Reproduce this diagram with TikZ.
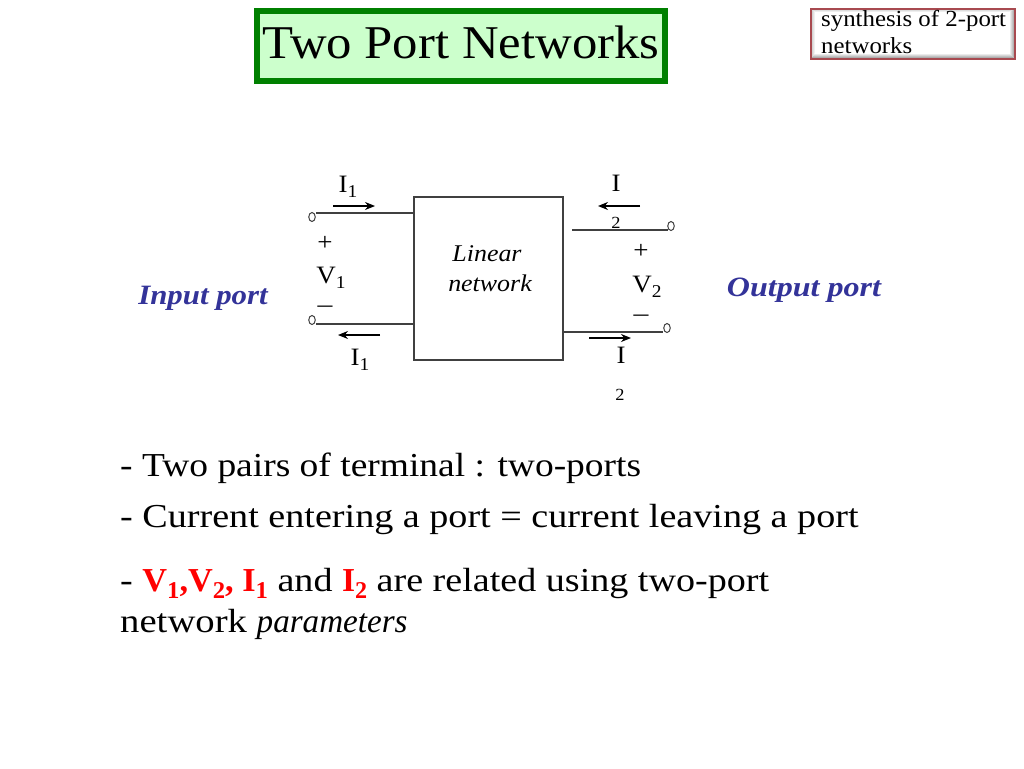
\documentclass[tikz,border=0pt]{standalone}
\usepackage{fontspec}
\usepackage{graphicx}
\setmainfont[FakeStretch=1.08]{Liberation Serif}
\usetikzlibrary{arrows.meta,shapes.geometric}
\definecolor{titlegreen}{HTML}{008000}
\definecolor{titlefill}{HTML}{CCFFCC}
\definecolor{portblue}{HTML}{333399}
\definecolor{linegray}{HTML}{404040}
\definecolor{tagred}{HTML}{A84A50}
\newcommand{\fs}[1]{\fontsize{#1}{#1}\selectfont}
\newcommand{\rsub}[1]{\raisebox{-0.22em}{\fontsize{0.72em}{0.72em}\selectfont #1}}
\newcommand{\hsq}[2]{\scalebox{#1}[1]{#2}}
\tikzset{
  x=1pt,y=-1pt,
  lbl/.style={inner sep=0pt,anchor=base,font=\fs{25},text=black},
  tiny2/.style={inner sep=0pt,anchor=base,font=\fs{17},text=black},
  body/.style={inner sep=0pt,anchor=base west,font=\fs{33.5},text=black},
  port/.style={inner sep=0pt,anchor=base,font=\fs{28}\bfseries\itshape,text=portblue},
  netw/.style={inner sep=0pt,anchor=base,font=\fs{24}\itshape,text=black},
  tagtext/.style={inner sep=0pt,anchor=base west,font=\fs{23},text=black},
  wire/.style={draw=linegray,line width=1.1pt},
  term/.style={ellipse,draw=linegray,line width=1pt,minimum width=6.5pt,minimum height=9pt,inner sep=0pt},
  cur/.style={draw=black,line width=1.2pt,-{Stealth[length=10pt,width=8pt]}}
}
\begin{document}
\begin{tikzpicture}
\useasboundingbox (0,0) rectangle (1024,768);
\fill[white] (0,0) rectangle (1024,768);
% title
\node[draw=titlegreen,fill=titlefill,line width=6pt,minimum width=408pt,minimum height=70pt,inner sep=0pt,anchor=center] (title) at (461,46) {};
\node[inner sep=0pt,anchor=base,font=\fs{47},text=black] (titletext) at (461,59) {Two Port Networks};
% tag
\fill[white] (811,9) rectangle (1015,59);
\shade[left color=gray!45,right color=white] (811,9) -- (815,12) -- (815,53) -- (811,59) -- cycle;
\shade[top color=gray!40,bottom color=white] (811,9) -- (1015,9) -- (1009,12) -- (815,12) -- cycle;
\shade[left color=white,right color=gray!90] (1015,9) -- (1015,59) -- (1009,53) -- (1009,12) -- cycle;
\shade[top color=white,bottom color=gray!95] (811,59) -- (1015,59) -- (1009,53) -- (815,53) -- cycle;
\node[draw=tagred,line width=2pt,minimum width=204pt,minimum height=50pt,inner sep=0pt] (tag) at (913,34) {};
\node[tagtext] (tag1) at (821,27) {synthesis of 2-port};
\node[tagtext] (tag2) at (821,53) {networks};
% network box
\node[draw=linegray,line width=1.1pt,minimum width=149pt,minimum height=163pt,inner sep=0pt] (net) at (488.5,278.5) {};
\node[netw] (l1) at (487,261) {Linear};
\node[netw] (l2) at (490,291) {network};
% terminals
\node[term] (t1) at (312,217) {};
\node[term] (t2) at (312,320) {};
\node[term] (t3) at (671,226) {};
\node[term] (t4) at (667,328) {};
\coordinate (a1) at (316,213);
\coordinate (a2) at (415,213);
\coordinate (b1) at (316,324);
\coordinate (b2) at (415,324);
\coordinate (c1) at (572,230);
\coordinate (c2) at (668,230);
\coordinate (d1) at (563,332);
\coordinate (d2) at (663,332);
\draw[wire] (a1) -- (a2);
\draw[wire] (b1) -- (b2);
\draw[wire] (c1) -- (c2);
\draw[wire] (d1) -- (d2);
% current arrows
\coordinate (e1) at (333,206); \coordinate (e2) at (375,206);
\coordinate (f1) at (380,335); \coordinate (f2) at (338,335);
\coordinate (g1) at (640,206); \coordinate (g2) at (598,206);
\coordinate (h1) at (589,338); \coordinate (h2) at (631,338);
\draw[cur] (e1) -- (e2);
\draw[cur] (f1) -- (f2);
\draw[cur] (g1) -- (g2);
\draw[cur] (h1) -- (h2);
% labels
\node[lbl] (i1a) at (348,192) {I\rsub{1}};
\node[lbl] (p1) at (325,250) {+};
\node[lbl] (v1) at (331,283) {V\rsub{1}};
\node[lbl] (m1) at (325,312) {\hsq{1.1}{–}};
\node[lbl] (i1b) at (360,365) {I\rsub{1}};
\node[lbl] (i2a) at (616,191) {I};
\node[tiny2] (i2as) at (616,228) {2};
\node[lbl] (p2) at (641,258) {+};
\node[lbl] (v2) at (647,292) {V\rsub{2}};
\node[lbl] (m2) at (641,321) {\hsq{1.1}{–}};
\node[lbl] (i2b) at (621,363) {I};
\node[tiny2] (i2bs) at (620,400) {2};
\node[port] (ip) at (203,304) {\hsq{1.02}{Input port}};
\node[port] (op) at (804,296) {\hsq{1.06}{Output port}};
% body
\node[body] (b1t) at (120,476) {\hsq{1.036}{- Two pairs of terminal : two-ports}};
\node[body] (b2t) at (120,527) {\hsq{1.054}{- Current entering a port = current leaving a port}};
\node[body] (b3t) at (120,591) {\hsq{1.053}{- \hsq{0.90}{\color{red}\bfseries V\rsub{1},V\rsub{2}, I\rsub{1}} and \hsq{0.88}{\color{red}\bfseries I\rsub{2}} are related using two-port}};
\node[body] (b4t) at (120,632) {\hsq{1.07}{network \hsq{0.855}{\itshape parameters}}};
\end{tikzpicture}
\end{document}
